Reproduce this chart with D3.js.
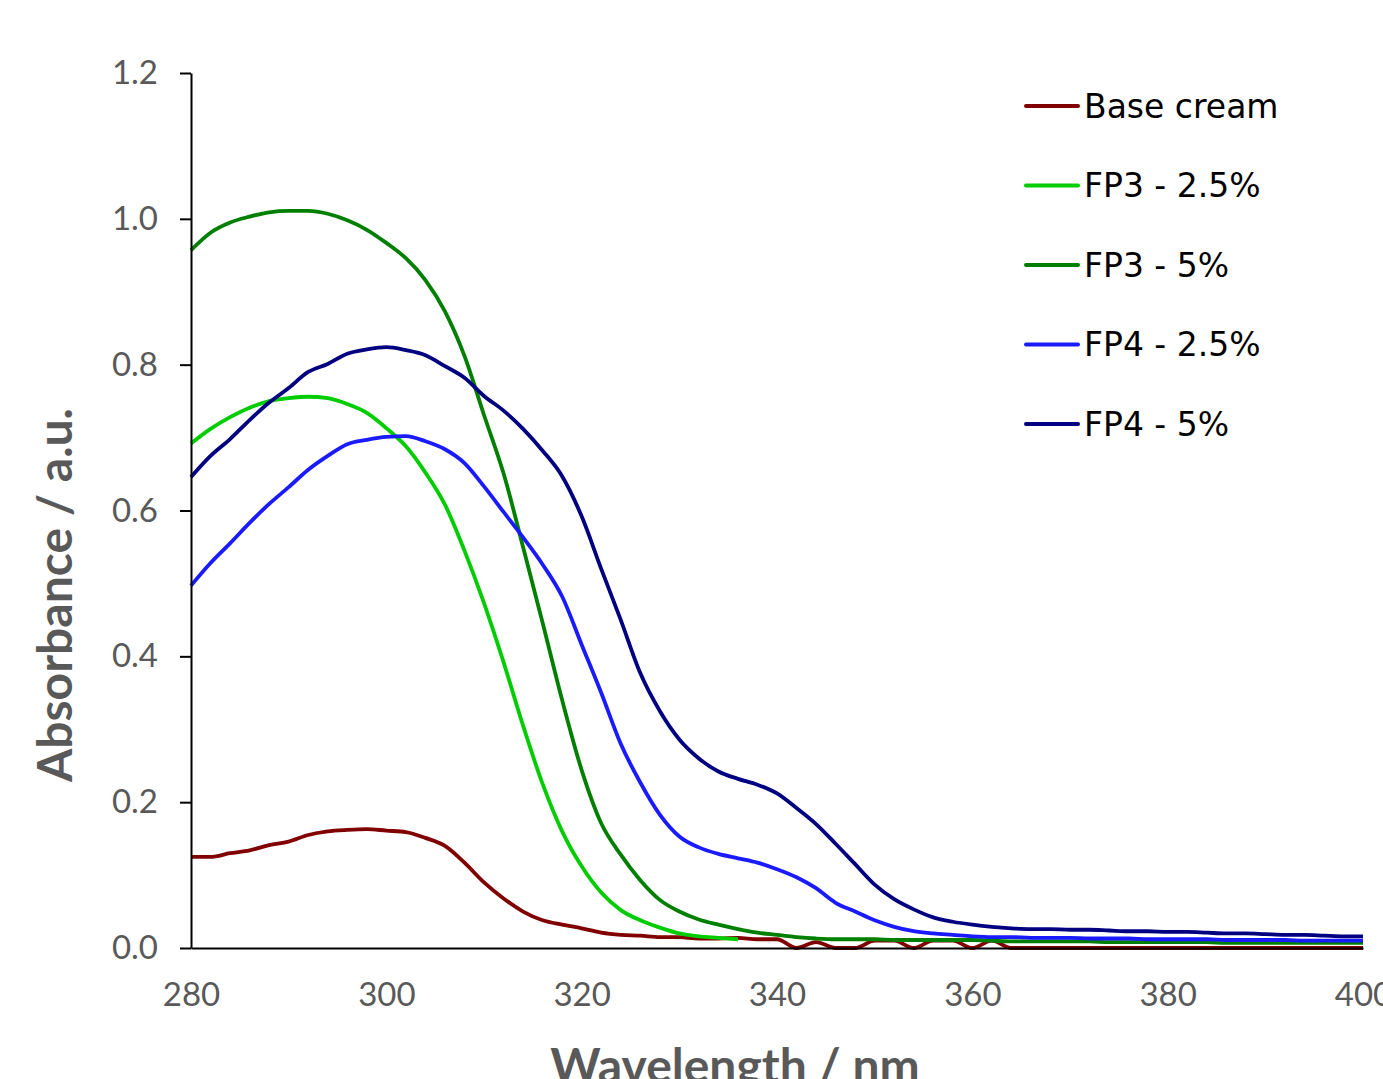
<!DOCTYPE html>
<html>
<head>
<meta charset="utf-8">
<script src="https://cdn.jsdelivr.net/npm/d3@7"></script>
<style>
  body { margin: 0; background: #fff; }
</style>
</head>
<body>
<div id="chart"></div>
<script>
// wavelength grid (nm), 2 nm steps
var wavelengths = d3.range(280, 401, 2);

var seriesNames = ["Base cream", "FP3 - 2.5%", "FP3 - 5%", "FP4 - 2.5%", "FP4 - 5%"];
var seriesColors = ["#800000", "#00cc00", "#007f00", "#1a1aff", "#000080"];

var baseCream = [
    0.125, 0.125, 0.130, 0.134, 0.141, 0.146, 0.155, 0.160, 0.162, 0.163,
    0.161, 0.159, 0.151, 0.140, 0.117, 0.090, 0.068, 0.050, 0.038, 0.032,
    0.027, 0.021, 0.018, 0.017, 0.015, 0.015, 0.013, 0.013, 0.014, 0.012,
    0.012, 0.000, 0.008, 0.000, 0.000, 0.010, 0.010, 0.000, 0.010, 0.010,
    0.000, 0.010, 0.000, 0.000, 0.000, 0.000, 0.000, 0.000, 0.000, 0.000,
    0.000, 0.000, 0.000, 0.000, 0.000, 0.000, 0.000, 0.000, 0.000, 0.000,
    0.000
];
var fp3_25 = [
    0.692, 0.712, 0.728, 0.741, 0.750, 0.754, 0.756, 0.754, 0.746, 0.734,
    0.713, 0.688, 0.652, 0.608, 0.545, 0.473, 0.392, 0.305, 0.225, 0.160,
    0.112, 0.076, 0.052, 0.038, 0.028, 0.020, 0.016, 0.014, 0.012, null,
    null, null, null, null, null, null, null, null, null, null,
    null, null, null, null, null, null, null, null, null, null,
    null, null, null, null, null, null, null, null, null, null,
    null
];
var fp3_5 = [
    0.957, 0.981, 0.995, 1.003, 1.009, 1.011, 1.011, 1.007, 0.998, 0.985,
    0.967, 0.946, 0.916, 0.873, 0.812, 0.731, 0.651, 0.550, 0.446, 0.340,
    0.244, 0.171, 0.128, 0.093, 0.066, 0.050, 0.039, 0.032, 0.026, 0.021,
    0.018, 0.015, 0.013, 0.012, 0.012, 0.012, 0.011, 0.011, 0.011, 0.011,
    0.011, 0.010, 0.009, 0.009, 0.009, 0.009, 0.009, 0.008, 0.008, 0.008,
    0.008, 0.008, 0.008, 0.007, 0.007, 0.007, 0.007, 0.007, 0.007, 0.007,
    0.007
];
var fp4_25 = [
    0.497, 0.528, 0.555, 0.583, 0.609, 0.632, 0.656, 0.675, 0.691, 0.697,
    0.701, 0.702, 0.695, 0.684, 0.665, 0.633, 0.598, 0.563, 0.526, 0.482,
    0.416, 0.350, 0.280, 0.227, 0.183, 0.153, 0.138, 0.129, 0.123, 0.117,
    0.108, 0.097, 0.082, 0.062, 0.050, 0.038, 0.029, 0.023, 0.020, 0.018,
    0.016, 0.015, 0.015, 0.014, 0.014, 0.014, 0.013, 0.013, 0.013, 0.012,
    0.012, 0.012, 0.012, 0.011, 0.011, 0.011, 0.011, 0.010, 0.010, 0.010,
    0.010
];
var fp4_5 = [
    0.646, 0.675, 0.698, 0.724, 0.748, 0.768, 0.790, 0.801, 0.815, 0.821,
    0.824, 0.820, 0.813, 0.798, 0.782, 0.757, 0.737, 0.712, 0.682, 0.647,
    0.592, 0.520, 0.450, 0.377, 0.325, 0.286, 0.260, 0.242, 0.232, 0.224,
    0.212, 0.192, 0.170, 0.143, 0.115, 0.087, 0.067, 0.053, 0.042, 0.036,
    0.032, 0.029, 0.027, 0.026, 0.026, 0.025, 0.025, 0.024, 0.023, 0.023,
    0.022, 0.022, 0.021, 0.020, 0.020, 0.019, 0.018, 0.018, 0.017, 0.016,
    0.016
];

var xTicks = [280, 300, 320, 340, 360, 380, 400];
var yTicks = [0, 0.2, 0.4, 0.6, 0.8, 1.0, 1.2];

var chart_width  = 1383;
var chart_height = 1079;
var plot_left = 191, plot_right = 1363, plot_top = 73, plot_bottom = 948;
var greyText = "#595959";
var tickFont = "Lato, 'Open Sans', sans-serif";
var legendFont = "'Comic Sans MS', 'DejaVu Sans', sans-serif";

var allSeries = [baseCream, fp3_25, fp3_5, fp4_25, fp4_5];

// Create SVG Element
var svg = d3.select("#chart")
    .append("svg")
    .attr("width", chart_width)
    .attr("height", chart_height);

// Create Scales
var x_scale = d3.scaleLinear()
    .domain([280, 400])
    .range([plot_left, plot_right]);

var y_scale = d3.scaleLinear()
    .domain([0, 1.2])
    .range([plot_bottom, plot_top]);

// Create Lines
var line = d3.line()
    .defined(function(d){ return d[1] !== null; })
    .x(function(d){ return x_scale(d[0]); })
    .y(function(d){ return y_scale(d[1]); })
    .curve(d3.curveMonotoneX);

allSeries.forEach(function(vals, i){
    var pts = wavelengths.map(function(w, j){ return [w, vals[j]]; });
    svg.append("path")
        .datum(pts)
        .attr("fill", "none")
        .attr("stroke", seriesColors[i])
        .attr("stroke-width", 3.8)
        .attr("stroke-linejoin", "round")
        .attr("d", line);
});

// Create Axis
var x_axis = d3.axisBottom(x_scale)
    .tickValues(xTicks)
    .tickSize(0)
    .tickSizeOuter(0)
    .tickPadding(35)
    .tickFormat(d3.format("d"));

var y_axis = d3.axisLeft(y_scale)
    .tickValues(yTicks)
    .tickSize(11)
    .tickSizeOuter(0)
    .tickPadding(22)
    .tickFormat(d3.format(".1f"));

var gx = svg.append("g")
    .attr("transform", "translate(0," + plot_bottom + ")")
    .call(x_axis);

var gy = svg.append("g")
    .attr("transform", "translate(" + plot_left + ",0)")
    .call(y_axis);

[gx, gy].forEach(function(g){
    g.selectAll("path, line").attr("stroke", "#000").attr("stroke-width", 2);
    g.selectAll("text")
        .attr("fill", greyText)
        .style("font-family", tickFont)
        .style("font-size", "33px");
});

// Axis titles
svg.append("text")
    .attr("x", 735)
    .attr("y", 1083)
    .attr("text-anchor", "middle")
    .attr("fill", greyText)
    .style("font-family", tickFont)
    .style("font-weight", "bold")
    .style("font-size", "48px")
    .text("Wavelength / nm");

svg.append("text")
    .attr("transform", "translate(72,595) rotate(-90)")
    .attr("text-anchor", "middle")
    .attr("fill", greyText)
    .style("font-family", tickFont)
    .style("font-weight", "bold")
    .style("font-size", "48px")
    .text("Absorbance / a.u.");

// Legend
var legend = svg.selectAll(".legend")
    .data(seriesNames)
    .enter()
    .append("g")
    .attr("class", "legend")
    .attr("transform", function(d, i){
        return "translate(1026," + (106 + i * 79.5) + ")";
    });

legend.append("line")
    .attr("x1", 0)
    .attr("x2", 52)
    .attr("stroke", function(d, i){ return seriesColors[i]; })
    .attr("stroke-width", 4)
    .attr("stroke-linecap", "round");

legend.append("text")
    .attr("x", 58)
    .attr("dy", "0.36em")
    .attr("fill", "#000")
    .style("font-family", legendFont)
    .style("font-size", "33px")
    .text(function(d){ return d; });
</script>
</body>
</html>
